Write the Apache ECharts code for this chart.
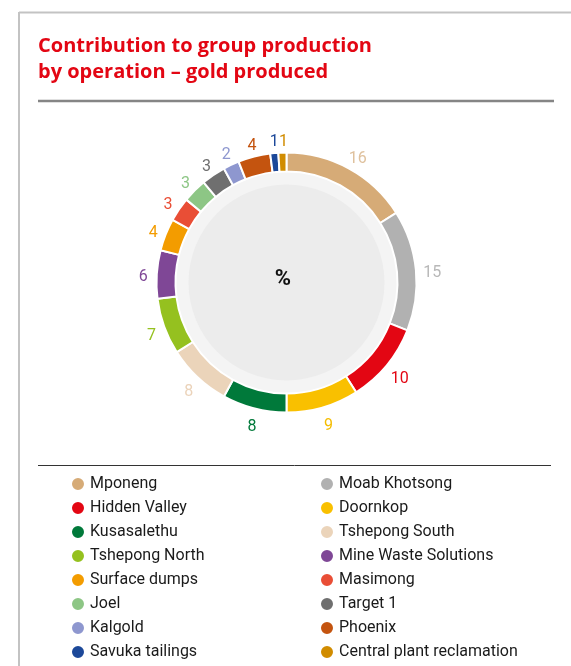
<!DOCTYPE html>
<html>
<head>
<meta charset="utf-8">
<script src="https://cdn.jsdelivr.net/npm/echarts@6/dist/echarts.min.js"></script>
<style>
html,body{margin:0;padding:0;background:#fff;}
#chart{width:571px;height:666px;}
</style>
</head>
<body>
<div id="chart"></div>
<script>
const titleText = 'Contribution to group production\nby operation – gold produced';
const operations = ['Mponeng','Moab Khotsong','Hidden Valley','Doornkop','Kusasalethu','Tshepong South','Tshepong North','Mine Waste Solutions','Surface dumps','Masimong','Joel','Target 1','Kalgold','Phoenix','Savuka tailings','Central plant reclamation'];
const shares = [16,15,10,9,8,8,7,6,4,3,3,3,2,4,1,1];
const colors = ['#d6ab77','#b1b1b1','#e30613','#f9c000','#00793a','#ebd4ba','#95c11f','#7f4796','#f39c00','#e94e36','#8dc685','#6f6f6f','#8e97cf','#c4540f','#1c4899','#d18c00'];
const labelColors = ['#dfc19d','#b8b8b8','#e30613','#f5bd00','#00793a','#ebd3ba','#95c11f','#7f4796','#f39c00','#e94e36','#8dc685','#6f6f6f','#8e97cf','#c4540f','#1c4899','#d18c00'];
const leftLegend = operations.filter((_, i) => i % 2 === 0);
const rightLegend = operations.filter((_, i) => i % 2 === 1);

const chart = echarts.init(document.getElementById('chart'), null, {renderer:'canvas'});
const font = 'Roboto, "Open Sans", sans-serif';
const legendBase = {
  orient:'vertical', icon:'circle', itemWidth:14, itemHeight:14, itemGap:8, height:220,
  selectedMode:false,
  textStyle:{fontFamily:font, fontSize:16, color:'#1a1a1a'}
};
const center = [286.5, 282.5];
const labelCenter = [288, 286.5];
chart.setOption({
  animation:false,
  color: colors,
  title:{
    text:titleText, left:33, top:28,
    textStyle:{fontFamily:'"Open Sans", sans-serif', fontWeight:'bold', fontSize:20, lineHeight:26, color:'#e30613'}
  },
  legend:[
    Object.assign({left:65, top:471, data:leftLegend}, legendBase),
    Object.assign({left:314, top:471, data:rightLegend}, legendBase)
  ],
  graphic:[
    {type:'line', z:100, shape:{x1:19, y1:12.5, x2:571, y2:12.5}, style:{stroke:'#c3c3c3', lineWidth:2}},
    {type:'line', z:100, shape:{x1:19, y1:12, x2:19, y2:666}, style:{stroke:'#c3c3c3', lineWidth:2}},
    {type:'line', z:100, shape:{x1:38, y1:101, x2:554, y2:101}, style:{stroke:'#858585', lineWidth:2.5}},
    {type:'line', z:100, shape:{x1:38, y1:465.5, x2:551, y2:465.5}, style:{stroke:'#333', lineWidth:1}},
    {type:'text', z:100, x:283, y:279, style:{text:'%', font:'bold 22px Roboto, sans-serif', fill:'#111', align:'center', verticalAlign:'middle'}}
  ],
  series:[
    {type:'pie', silent:true, center:center, radius:[0,111], label:{show:false}, labelLine:{show:false},
     data:[{value:1, itemStyle:{color:'#f4f4f4'}}]},
    {type:'pie', silent:true, center:center, radius:[0,98], label:{show:false}, labelLine:{show:false},
     data:[{value:1, itemStyle:{color:'#ececec'}}]},
    {type:'pie', name:'gold', center:center, radius:[111,130], startAngle:90, clockwise:true,
     avoidLabelOverlap:false,
     itemStyle:{borderColor:'#fff', borderWidth:2},
     label:{show:false},
     labelLine:{show:false},
     data: operations.map((n,i)=>({name:n, value:shares[i]}))
    },
    {type:'pie', name:'labels', silent:true, center:labelCenter, radius:[136,148], startAngle:90, clockwise:true,
     avoidLabelOverlap:false,
     itemStyle:{color:'rgba(0,0,0,0)'},
     label:{show:true, position:'inside', fontFamily:font, fontSize:16, formatter:'{c}'},
     labelLine:{show:false},
     labelLayout:{hideOverlap:false},
     data: operations.map((n,i)=>({name:n+' ', value:shares[i], label:{color:labelColors[i]}}))
    }
  ]
});
</script>
</body>
</html>
